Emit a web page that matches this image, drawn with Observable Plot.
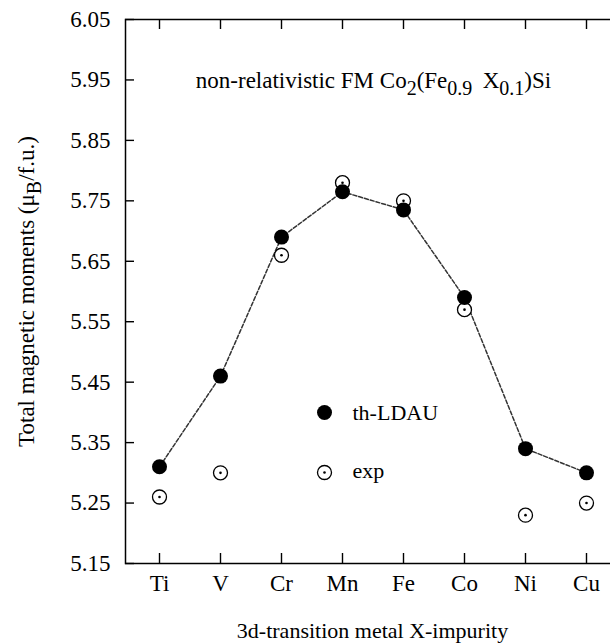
<!DOCTYPE html>
<html>
<head>
<meta charset="utf-8">
<script src="https://cdn.jsdelivr.net/npm/d3@7"></script>
<script src="https://cdn.jsdelivr.net/npm/@observablehq/plot@0.6"></script>
<style>
  html, body { margin: 0; padding: 0; background: #fff; }
  #chart { width: 610px; height: 643px; overflow: hidden; }
</style>
</head>
<body>
<div id="chart"></div>
<script>
// 3d impurity X in Co2(Fe0.9 X0.1)Si
const impurities = ["Ti", "V", "Cr", "Mn", "Fe", "Co", "Ni", "Cu"];
// total magnetic moment per formula unit (muB)
const thLDAU = [5.31, 5.46, 5.69, 5.765, 5.735, 5.59, 5.34, 5.30];
const expMoments = [5.26, 5.30, 5.66, 5.78, 5.75, 5.57, 5.23, 5.25];
const yTicks = [5.15, 5.25, 5.35, 5.45, 5.55, 5.65, 5.75, 5.85, 5.95, 6.05];
const legendLabels = ["th-LDAU", "exp"];

// heading and y label, split into [text, isSubscript] runs
const titleRuns = [["non-relativistic FM Co", false], ["2", true], ["(Fe", false], ["0.9", true], ["\u2009 X", false], ["0.1", true], [")Si", false]];
const yLabelRuns = [["Total magnetic moments (\u03bc", false], ["B", true], ["/f.u.)", false]];

const W = 640, H = 643;
const mL = 125, mR = 21, mT = 19, mB = 80;
const fw = W - mL - mR, fh = H - mT - mB;
const font = "'Liberation Serif', 'Times New Roman', serif";
const fs = 22;

const theory = impurities.map((x, i) => ({x, y: thLDAU[i]}));
const measured = impurities.map((x, i) => ({x, y: expMoments[i]}));

const plot = Plot.plot({
  width: W,
  height: H,
  marginLeft: mL,
  marginRight: mR,
  marginTop: mT,
  marginBottom: mB,
  style: {fontFamily: font, fontSize: fs + "px", color: "#000", background: "#fff", maxWidth: "none"},
  x: {type: "point", domain: impurities, padding: 0.5, axis: null},
  y: {domain: [5.15, 6.05], axis: null},
  marks: [
    Plot.frame({stroke: "#000", strokeWidth: 1.5}),
    // inward ticks on all four sides
    Plot.tickY(yTicks, {y: d => d, insetRight: fw - 9, stroke: "#000", strokeWidth: 1.4}),
    Plot.tickY(yTicks, {y: d => d, insetLeft: fw - 9, stroke: "#000", strokeWidth: 1.4}),
    Plot.tickX(impurities, {x: d => d, insetTop: fh - 10, stroke: "#000", strokeWidth: 1.4}),
    Plot.tickX(impurities, {x: d => d, insetBottom: fh - 10, stroke: "#000", strokeWidth: 1.4}),
    Plot.axisY({ticks: yTicks, tickSize: 0, tickPadding: 15, tickFormat: d3.format(".2f"), label: null, fontSize: 23}),
    Plot.axisX({ticks: impurities, tickSize: 0, tickPadding: 11, label: null, fontSize: 23}),
    // axis titles and heading
    Plot.text(["3d-transition metal X-impurity"], {frameAnchor: "bottom", dy: 67, lineAnchor: "middle", text: d => d, fontSize: fs}),
    Plot.text([yLabelRuns[0][0]], {frameAnchor: "left", dx: -99, rotate: -90, textAnchor: "middle", lineAnchor: "middle", text: d => d, fontSize: 23}),
    Plot.text([titleRuns[0][0]], {frameAnchor: "top", dy: 61, dx: 1, lineAnchor: "middle", text: d => d, fontSize: 23}),
    // theory curve and points
    Plot.line(theory, {x: "x", y: "y", stroke: "#333", strokeWidth: 1.5, strokeDasharray: "4,2"}),
    Plot.dot(measured, {x: "x", y: "y", r: 7, stroke: "#000", strokeWidth: 1.3, fill: "#fff"}),
    Plot.dot(measured, {x: "x", y: "y", r: 1.3, fill: "#000"}),
    Plot.dot(theory, {x: "x", y: "y", r: 7.5, fill: "#000"}),
    // legend
    Plot.dot([legendLabels[0]], {frameAnchor: "top-left", dx: 199, dy: 393, r: 7.5, fill: "#000"}),
    Plot.text([legendLabels[0]], {frameAnchor: "top-left", dx: 227, dy: 393, lineAnchor: "middle", textAnchor: "start", text: d => d, fontSize: fs}),
    Plot.dot([legendLabels[1]], {frameAnchor: "top-left", dx: 199, dy: 453, r: 7, stroke: "#000", strokeWidth: 1.3, fill: "#fff"}),
    Plot.dot([legendLabels[1]], {frameAnchor: "top-left", dx: 199, dy: 453, r: 1.3, fill: "#000"}),
    Plot.text([legendLabels[1]], {frameAnchor: "top-left", dx: 227, dy: 451, lineAnchor: "middle", textAnchor: "start", text: d => d, fontSize: fs})
  ]
});

// replace a plain text element with runs, subscripts shifted down and smaller
function richText(runs) {
  const t = d3.select(plot).selectAll("text").filter(function () { return this.textContent === runs[0][0]; });
  t.text(null).style("white-space", "pre");
  let shifted = false;
  for (const [s, sub] of runs) {
    const span = t.append("tspan").text(s);
    if (sub && !shifted) { span.attr("dy", 7); shifted = true; }
    else if (!sub && shifted) { span.attr("dy", -7); shifted = false; }
    if (sub) span.attr("font-size", 20);
  }
}
richText(titleRuns);
richText(yLabelRuns);

document.getElementById("chart").appendChild(plot);
</script>
</body>
</html>
